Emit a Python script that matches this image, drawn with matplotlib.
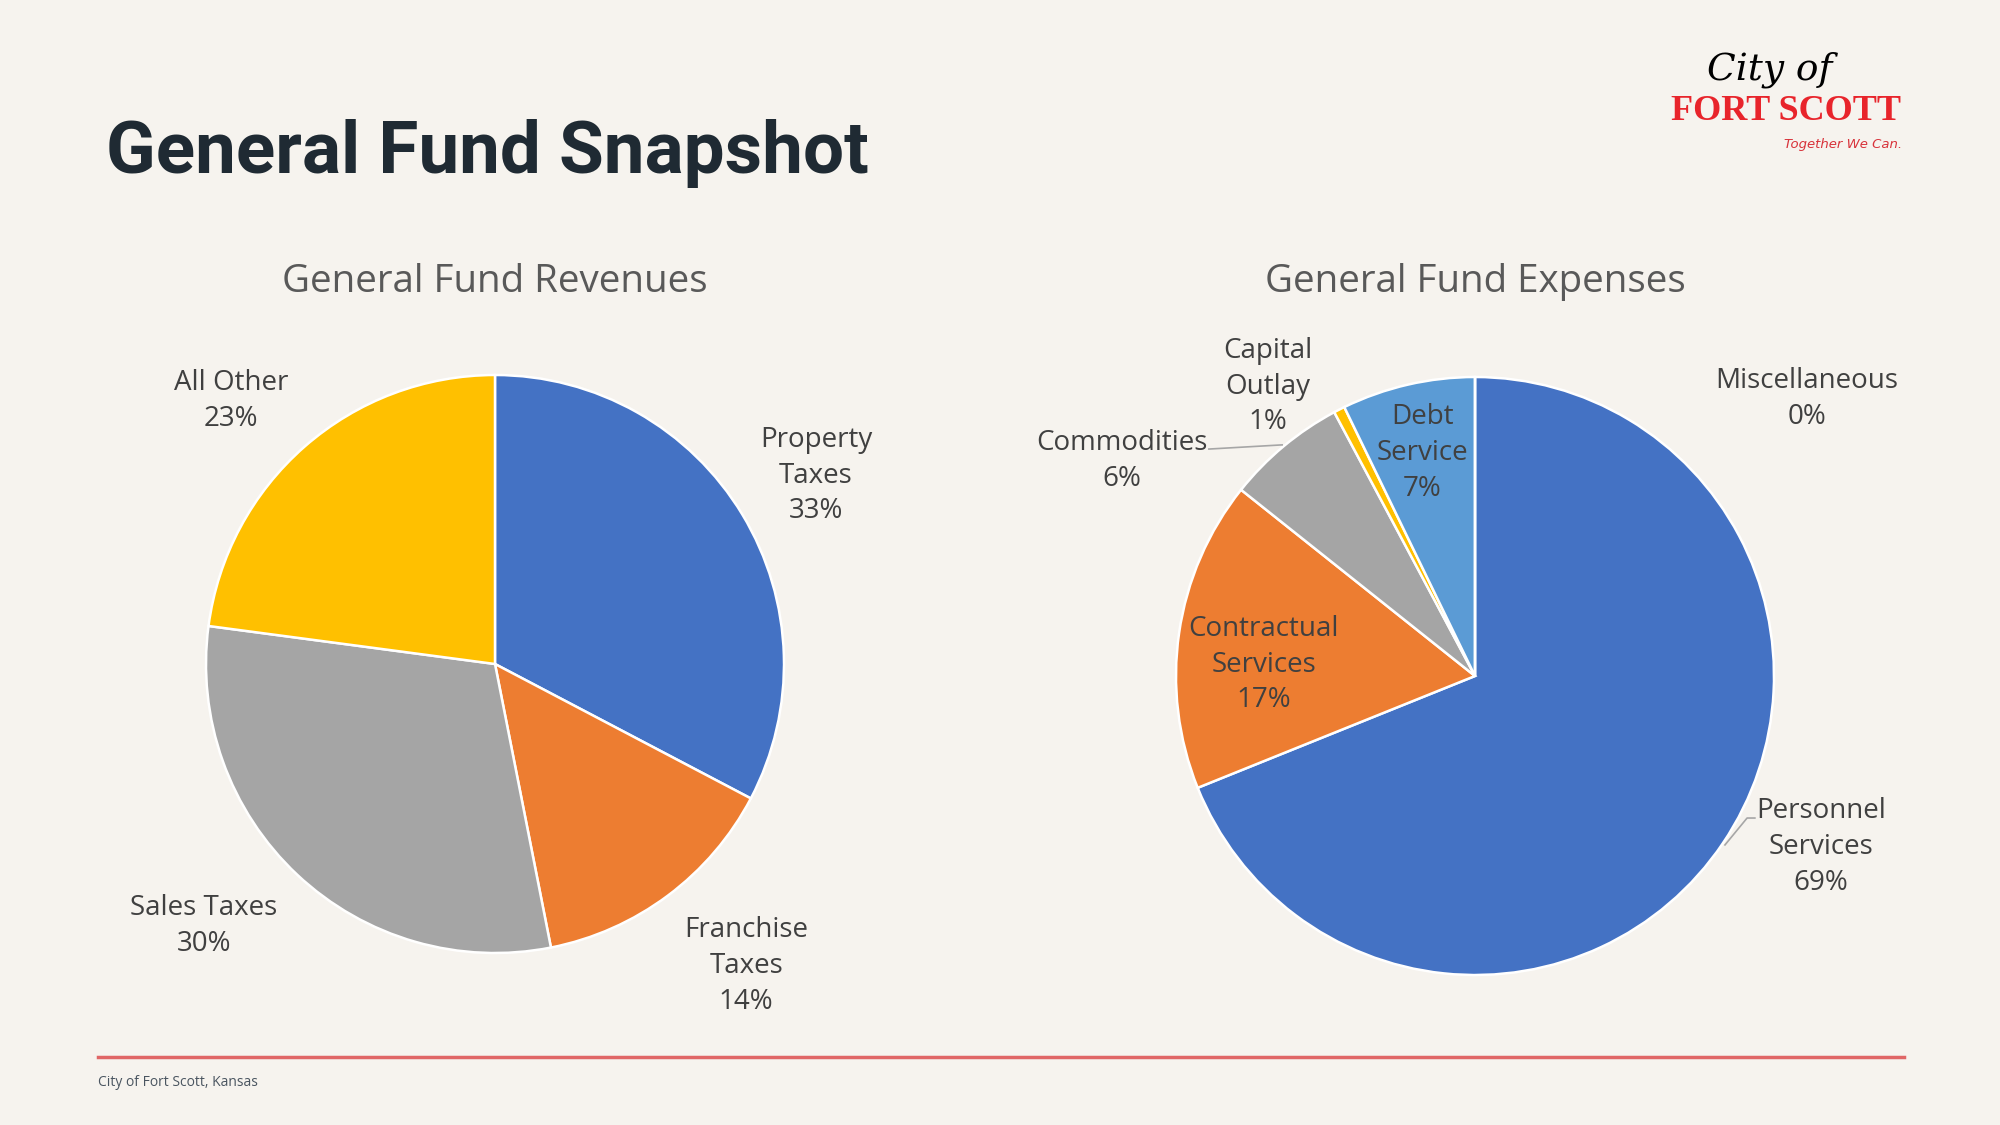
import matplotlib.pyplot as plt

# data
rev_labels = ["Property\nTaxes", "Franchise\nTaxes", "Sales Taxes", "All Other"]
rev_values = [32.7, 14.2, 30.2, 22.9]
rev_colors = ["#4472C4", "#ED7D31", "#A5A5A5", "#FFC000"]

exp_labels = ["Personnel\nServices", "Contractual\nServices", "Commodities",
              "Capital\nOutlay", "Debt\nService", "Miscellaneous"]
exp_values = [68.9, 16.8, 6.5, 0.6, 7.2, 0.0]
exp_colors = ["#4472C4", "#ED7D31", "#A5A5A5", "#FFC000", "#5B9BD5", "#70AD47"]

# label positions (pie radius = 1)
rev_pos = [(1.111, 0.651), (0.869, -1.045), (-1.007, -0.906), (-0.913, 0.910)]
exp_pos = [(1.157, -0.572), (-0.706, 0.037), (-1.181, 0.719),
           (-0.692, 0.967), (-0.177, 0.746), (1.110, 0.926)]

BG = "#F6F3EE"
W, H = 2000, 1125
fig = plt.figure(figsize=(20, 11.25), dpi=100, facecolor=BG)

LBL_FONT = ["Open Sans", "DejaVu Sans"]


def pie_axes(cx, cy, r):
    ax = fig.add_axes([(cx - r) / W, 1 - (cy + r) / H, 2 * r / W, 2 * r / H])
    ax.set_xlim(-1, 1)
    ax.set_ylim(-1, 1)
    ax.set_aspect("equal")
    ax.axis("off")
    return ax


def draw_pie(ax, values, colors, labels, pos):
    ax.pie(values, colors=colors, startangle=90, counterclock=False, radius=1,
           wedgeprops=dict(edgecolor="white", linewidth=1.8))
    ax.set_xlim(-1, 1)
    ax.set_ylim(-1, 1)
    for lab, v, (x, y) in zip(labels, values, pos):
        ax.text(x, y, f"{lab}\n{round(v):.0f}%", ha="center", va="center",
                fontsize=20, color="#404040", family=LBL_FONT, linespacing=1.36,
                clip_on=False)


ax1 = pie_axes(495, 664, 289)
draw_pie(ax1, rev_values, rev_colors, rev_labels, rev_pos)

ax2 = pie_axes(1475, 676, 299)
draw_pie(ax2, exp_values, exp_colors, exp_labels, exp_pos)
# leader lines
ax2.plot([-0.890, -0.645], [0.759, 0.773], color="#A6A6A6", lw=1.2, clip_on=False)
ax2.plot([0.936, 0.910, 0.836], [-0.475, -0.475, -0.565], color="#A6A6A6", lw=1.2,
         clip_on=False)

# titles
fig.text(106 / W, 1 - 153 / H, "General Fund Snapshot", fontsize=52.5, fontweight="bold",
         color="#1F2A33", family=["Roboto", "DejaVu Sans"], va="center")
fig.text(495 / W, 1 - 282 / H, "General Fund Revenues", fontsize=27.7, color="#595959",
         family=LBL_FONT, ha="center", va="center")
fig.text(1475 / W, 1 - 282 / H, "General Fund Expenses", fontsize=27.7, color="#595959",
         family=LBL_FONT, ha="center", va="center")

# logo (text approximation)
fig.text(1770 / W, 1 - 70 / H, "City of", fontsize=27, style="italic", color="black",
         family=["DejaVu Serif"], ha="center", va="center")
fig.text(1786 / W, 1 - 112 / H, "FORT SCOTT", fontsize=26, fontweight="bold",
         color="#E8242B", family=["Liberation Serif"], ha="center", va="center")
fig.text(1843 / W, 1 - 145 / H, "Together We Can.", fontsize=9.5, style="italic",
         color="#D8323A", family=["DejaVu Sans"], ha="center", va="center")

# footer
fig.add_artist(plt.Line2D([98 / W, 1904 / W], [1 - 1057 / H, 1 - 1057 / H],
                          color="#E06666", lw=2.5))
fig.text(98 / W, 1 - 1083 / H, "City of Fort Scott, Kansas", fontsize=10,
         color="#4A5560", family=LBL_FONT, va="center")

fig.savefig("out.png", dpi=100, facecolor=BG)
